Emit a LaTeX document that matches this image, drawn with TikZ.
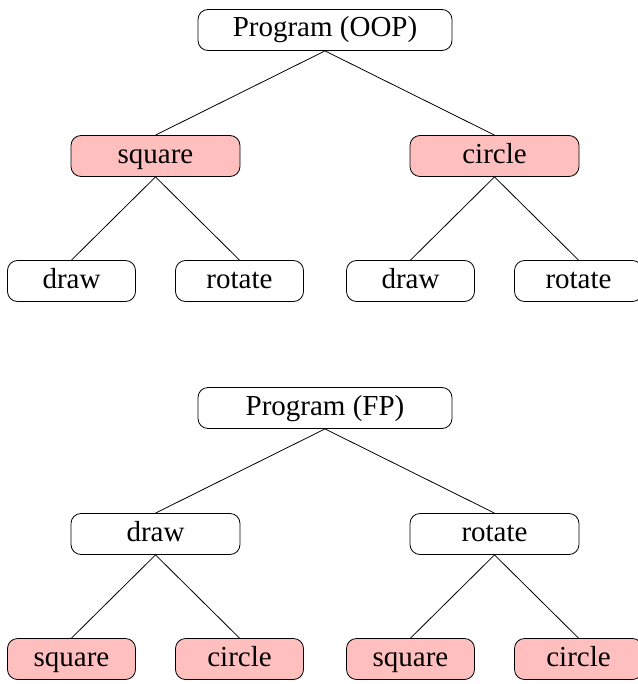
\documentclass[tikz,border=0pt]{standalone}
\usepackage{fontspec}
\setmainfont{Liberation Serif}
\begin{document}
\begin{tikzpicture}[
      level 1/.style={level distance=63pt,sibling distance=169.5pt,nodes={minimum width=84.5pt}},
      level 2/.style={level distance=62.5pt,sibling distance=84pt,nodes={minimum width=64pt}},
      parent anchor=south,child anchor=north,
      font=\fontsize{14.5}{17}\selectfont,inner sep=2pt,
      every node/.style={draw,rounded corners=5pt,minimum height=20.5pt,text height=10pt,text depth=3pt},
      hl/.style={fill=red!25}]
    \useasboundingbox (0,0) rectangle (318.5pt,-342pt);
    \node[minimum width=127pt] (oop) at (162.5pt,-15pt) {Program (OOP)}
      child {node[hl] (oopsq) {square}
          child {node (oopsqdraw) {draw}}
          child {node (oopsqrot) {rotate}}
      }
      child {node[hl] (oopci) {circle}
          child {node (oopcidraw) {draw}}
          child {node (oopcirot) {rotate}}
      }
          ;
    \node[minimum width=127pt] (fp) at (162.5pt,-204pt) {Program (FP)}
      child {node (fpdraw) {draw}
          child {node[hl] (fpdrawsq) {square}}
          child {node[hl] (fpdrawci) {circle}}
      }
      child {node (fprot) {rotate}
          child {node[hl] (fprotsq) {square}}
          child {node[hl] (fprotci) {circle}}
      }
          ;
  \end{tikzpicture}
\end{document}
